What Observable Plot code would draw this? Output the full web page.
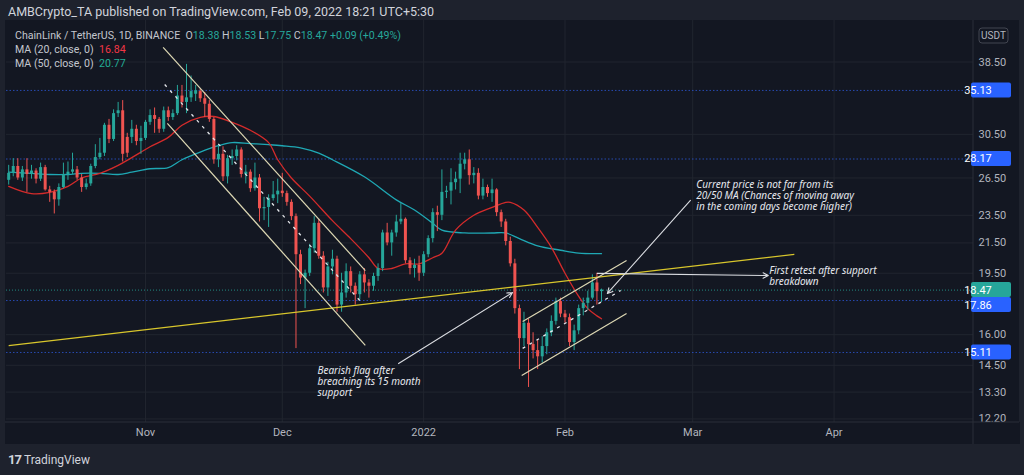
<!DOCTYPE html>
<html><head><meta charset="utf-8">
<script src="https://cdn.jsdelivr.net/npm/d3@7"></script>
<script src="https://cdn.jsdelivr.net/npm/@observablehq/plot@0.6"></script>
<style>
html,body{margin:0;padding:0;background:#1e222d;width:1024px;height:475px;overflow:hidden;font-family:Roboto,"Noto Sans",sans-serif;}
#header{position:absolute;left:8px;top:4px;font-size:12.5px;color:#d1d4dc;white-space:nowrap;}
#chart{position:absolute;left:5px;top:20px;width:1014px;height:424px;background:#131722;}
#legend{position:absolute;left:15px;top:29px;font-size:10.6px;color:#c3c6ce;line-height:14px;white-space:nowrap;}
#footer{position:absolute;left:8px;top:452px;font-size:12px;color:#d1d4dc;white-space:nowrap;}
#footer b{font-size:13px;letter-spacing:-1px;margin-right:3px;}
.up{color:#26a69a}
</style></head>
<body>
<div id="header">AMBCrypto_TA published on TradingView.com, Feb 09, 2022 18:21 UTC+5:30</div>
<div id="chart"></div>
<div id="legend"></div>
<div id="footer"><b>17</b>TradingView</div>
<script>
// ---- daily candles, Oct 2 2021 .. Feb 9 2022 (LINK/USDT, 1D) ----
const firstDay = "2021-10-02";
const opens = [26.3,26.9,27.5,26.5,27.2,26.8,27.1,26.4,27.4,25.5,25.3,24.7,25.7,26.8,27.0,27.2,26.5,25.7,26.0,27.5,28.3,28.7,31.4,30.0,32.6,32.9,30.2,30.2,31.0,29.8,
30.1,31.7,32.4,32.0,31.0,32.9,32.2,32.6,34.5,33.8,34.3,34.7,35.0,34.2,33.6,32.0,28.1,28.6,26.6,28.2,28.4,29.0,26.8,27.0,25.6,26.5,24.0,24.1,24.8,25.1,
25.4,25.2,24.5,23.4,20.7,19.2,19.5,21.1,22.9,20.6,18.6,19.9,20.4,17.6,18.3,19.6,18.7,18.2,19.4,18.9,18.7,19.3,19.8,22.2,21.5,22.2,23.0,23.2,20.3,19.8,20.0,
19.5,20.7,21.8,23.7,23.5,25.3,25.4,26.1,26.4,27.7,28.1,26.7,26.9,25.0,25.7,25.2,25.5,23.7,23.0,21.6,20.1,17.4,15.8,16.6,15.5,15.2,14.9,15.4,16.1,16.7,17.8,
17.1,16.9,15.6,16.2,17.4,17.7,18.0,18.9,18.38];
const highs = [27.6,28.2,28.2,27.5,28.2,27.6,27.3,27.8,27.6,25.8,25.5,26.0,27.8,27.9,28.7,27.5,26.8,26.4,27.7,29.5,30.1,31.6,32.0,33.0,33.8,34.0,30.6,31.9,31.4,31.3,
31.9,33.0,33.2,32.2,33.3,33.3,33.0,35.7,35.7,38.2,36.8,35.7,35.3,34.9,34.0,32.2,29.5,29.3,28.5,29.0,29.4,29.2,27.6,27.2,27.8,26.8,24.9,25.1,26.2,26.4,
26.9,25.4,24.7,23.6,21.0,19.7,21.4,23.4,23.2,20.9,20.2,21.0,20.6,19.5,20.1,19.9,18.9,19.6,19.8,19.1,19.5,20.1,22.4,22.9,22.4,23.5,24.4,23.3,20.5,20.4,20.6,
20.9,22.0,24.0,24.2,27.2,25.8,27.3,27.0,28.7,28.7,29.0,27.4,27.3,26.4,25.9,26.4,25.6,23.9,23.2,21.9,20.4,17.6,17.2,16.8,16.1,15.7,15.9,16.3,17.0,18.0,18.0,
17.3,17.1,16.5,17.6,18.0,18.4,19.4,19.5,18.53];
const lows = [25.9,26.6,26.3,26.2,25.3,26.4,26.0,26.2,25.4,24.5,23.6,24.2,25.6,26.3,26.8,26.3,25.3,25.5,25.8,27.3,28.1,28.4,29.6,29.8,32.2,27.9,28.3,29.6,29.4,28.6,
29.9,31.4,30.6,30.6,30.7,31.8,31.9,32.4,33.2,32.6,33.8,33.9,33.8,32.2,31.7,27.7,27.4,26.2,26.0,27.6,28.0,26.5,26.0,25.3,25.4,23.0,23.1,22.6,24.6,24.4,
24.9,24.2,23.1,15.3,18.8,17.4,19.3,20.8,20.4,18.3,18.1,19.4,17.2,17.2,18.0,18.3,17.6,17.9,18.3,18.0,18.4,19.0,19.6,21.3,20.6,21.9,22.8,20.1,19.4,19.2,19.0,
19.3,20.5,21.5,22.3,23.1,24.8,24.3,25.5,25.2,27.2,25.9,26.0,24.7,24.7,24.9,24.5,23.4,22.6,21.3,19.9,17.1,14.3,15.4,13.5,14.8,14.3,14.6,15.0,15.9,16.5,16.9,
16.6,15.4,15.2,16.0,17.0,17.3,17.9,17.6,17.75];
const closes = [26.9,27.5,26.5,27.2,26.8,27.1,26.4,27.4,25.5,25.3,24.7,25.7,26.8,27.0,27.2,26.5,25.7,26.0,27.5,28.3,28.7,31.4,30.0,32.6,32.9,28.6,28.7,31.0,29.8,30.1,
31.7,32.4,32.0,31.0,32.9,32.2,32.6,34.5,33.8,34.3,35.0,35.1,34.2,33.6,32.0,28.1,28.6,26.6,28.2,28.4,29.0,26.8,27.0,25.6,26.5,24.0,24.1,24.8,25.1,25.4,
25.2,24.5,23.4,20.7,19.2,19.5,21.1,22.9,20.6,18.6,19.9,20.4,17.6,18.3,19.6,18.7,18.2,19.4,18.9,18.7,19.3,19.8,22.2,21.5,22.2,23.0,23.2,20.3,19.8,20.0,19.5,
20.7,21.8,23.7,23.5,25.3,25.4,26.1,26.4,27.7,28.1,26.7,26.9,25.0,25.7,25.2,25.5,23.7,23.0,21.6,20.1,17.4,15.8,16.6,15.5,15.2,14.9,15.4,16.1,16.7,17.8,17.1,
16.9,15.6,16.2,17.4,17.7,18.0,18.9,18.38,18.47];

// ---- moving averages ----
const ma20Dates = ["2021-10-02","2021-10-07","2021-10-11","2021-10-15","2021-10-18","2021-10-22","2021-10-26","2021-10-29","2021-11-02","2021-11-06","2021-11-09","2021-11-13","2021-11-16","2021-11-20","2021-11-24","2021-11-28","2021-11-30","2021-12-03","2021-12-07","2021-12-12","2021-12-16","2021-12-20","2021-12-22","2021-12-25","2021-12-28","2021-12-31","2022-01-03","2022-01-05","2022-01-08","2022-01-12","2022-01-16","2022-01-19","2022-01-20","2022-01-23","2022-01-26","2022-01-29","2022-02-01","2022-02-04","2022-02-06","2022-02-08","2022-02-09"];
const ma20Values = [25.8,25.2,25.3,25.8,26.5,26.9,27.6,28.3,29.3,30.2,31.4,32.2,32.3,31.7,30.9,29.7,28.1,26.5,25.0,23.1,21.8,20.5,19.8,19.8,20.1,20.1,20.5,20.8,22.4,23.5,24.1,24.5,24.5,23.9,22.6,21.2,19.5,18.1,17.4,17.0,16.84];
const ma50Dates = ["2021-10-02","2021-10-07","2021-10-11","2021-10-15","2021-10-18","2021-10-22","2021-10-26","2021-10-29","2021-11-02","2021-11-06","2021-11-09","2021-11-13","2021-11-17","2021-11-20","2021-11-24","2021-11-28","2021-12-01","2021-12-05","2021-12-09","2021-12-12","2021-12-19","2021-12-26","2021-12-30","2022-01-03","2022-01-05","2022-01-10","2022-01-16","2022-01-19","2022-01-22","2022-01-26","2022-01-31","2022-02-04","2022-02-09"];
const ma50Values = [27.0,26.9,26.8,26.8,26.9,26.9,26.8,27.0,27.3,27.4,28.1,28.8,29.4,29.7,29.6,29.5,29.4,29.2,28.7,28.1,26.6,24.7,23.9,22.9,22.4,22.2,22.2,22.2,21.8,21.3,21.0,20.8,20.77];

// ---- price levels and ticks ----
const blueLevels = [35.13, 28.17, 17.86, 15.11];
const lastPrice = 18.47;
const yTicks = [38.5, 30.5, 26.5, 23.5, 21.5, 19.5, 16.0, 14.5, 13.3, 12.2];
const monthTicks = ["2021-11-01","2021-12-01","2022-01-01","2022-02-01","2022-03-01","2022-04-01"];

// ---- drawings (trend lines) ----
const channelLines = [
  {x1:"2021-11-04T21:00Z", y1:40.35, x2:"2021-12-19T05:00Z", y2:19.67},
  {x1:"2021-11-05T19:00Z", y1:31.6,  x2:"2021-12-19T05:00Z", y2:15.46},
  {x1:"2022-01-22T17:00Z", y1:16.69, x2:"2022-02-14T12:00Z", y2:20.32},
  {x1:"2022-01-22T12:00Z", y1:14.03, x2:"2022-02-14T12:00Z", y2:17.13}
];
const dashedLines = [
  {x1:"2021-11-05T05:00Z", y1:35.8,  x2:"2021-12-18T14:00Z", y2:17.69},
  {x1:"2022-01-22T17:00Z", y1:15.31, x2:"2022-02-13T05:00Z", y2:18.45}
];
const supportLine = [{x1:"2021-10-02T00:00Z", y1:15.45, x2:"2022-03-23T07:00Z", y2:20.72}];
const arrowLines = [
  {x1:"2021-12-26T12:00Z", y1:14.58, x2:"2022-01-20T12:00Z", y2:18.33},
  {x1:"2022-02-28T12:00Z", y1:24.66, x2:"2022-02-10T07:00Z", y2:18.27},
  {x1:"2022-02-08T02:00Z", y1:19.49, x2:"2022-03-17T14:00Z", y2:19.36}
];
const notes = [
  {x:"2021-12-08T17:00Z", y:14.45, text:"Bearish flag after\nbreaching its 15 month\nsupport"},
  {x:"2022-03-01T19:00Z", y:26.35, text:"Current price is not far from its\n20/50 MA (Chances of moving away\nin the coming days become higher)"},
  {x:"2022-03-17T19:00Z", y:19.97, text:"First retest after support\nbreakdown"}
];

// ---- build tables ----
const up = "#26a69a", down = "#ef5350";
const t0 = new Date(firstDay + "T00:00Z");
const candles = closes.map((c, i) => ({date: d3.utcDay.offset(t0, i), open: opens[i], high: highs[i], low: lows[i], close: c}));
const ma20 = ma20Dates.map((d, i) => ({date: new Date(d + "T00:00Z"), v: ma20Values[i]}));
const ma50 = ma50Dates.map((d, i) => ({date: new Date(d + "T00:00Z"), v: ma50Values[i]}));
const toD = s => new Date(s);
const seg = a => a.map(o => ({x1: toD(o.x1), y1: o.y1, x2: toD(o.x2), y2: o.y2}));
const mTicks = monthTicks.map(s => new Date(s + "T00:00Z"));
const grid = "#21252f";

const chart = Plot.plot({
  width: 1014, height: 424,
  marginLeft: 1, marginRight: 46, marginTop: 0, marginBottom: 22,
  style: {background: "transparent", color: "#b2b5be", fontFamily: "Roboto, sans-serif", fontSize: "11px", overflow: "visible"},
  color: {type: "identity"},
  x: {type: "utc", domain: [new Date(Date.UTC(2021,9,1,12,29)), new Date(Date.UTC(2022,4,1,13,55))],
      ticks: mTicks, tickSize: 0, tickPadding: 6, label: null,
      tickFormat: d => d.getUTCMonth() === 0 ? String(d.getUTCFullYear()) : d3.utcFormat("%b")(d)},
  y: {type: "log", domain: [12.06, 44.0], axis: "right", ticks: yTicks, tickSize: 0, tickPadding: 5,
      tickFormat: d => d.toFixed(2), label: null},
  marks: [
    Plot.ruleX(mTicks, {stroke: grid}),
    Plot.ruleY(yTicks, {stroke: grid}),
    Plot.ruleY(blueLevels, {stroke: "#2a52c9", strokeOpacity: 0.85, strokeDasharray: "1.5,2", strokeWidth: 1}),
    Plot.ruleY([lastPrice], {stroke: "#26a69a", strokeOpacity: 0.8, strokeDasharray: "1,2", strokeWidth: 1}),
    Plot.line(ma50, {x: "date", y: "v", stroke: "#1fa8b4", strokeWidth: 1.3, curve: "catmull-rom"}),
    Plot.line(ma20, {x: "date", y: "v", stroke: "#d42b2b", strokeWidth: 1.3, curve: "catmull-rom"}),
    Plot.ruleX(candles, {x: "date", y1: "low", y2: "high", stroke: d => d.close >= d.open ? up : down, strokeWidth: 1}),
    Plot.ruleX(candles, {x: "date", y1: "open", y2: "close", stroke: d => d.close >= d.open ? up : down, strokeWidth: 3}),
    Plot.link(seg(supportLine), {x1: "x1", y1: "y1", x2: "x2", y2: "y2", stroke: "#d8c62c", strokeWidth: 1.2}),
    Plot.link(seg(channelLines), {x1: "x1", y1: "y1", x2: "x2", y2: "y2", stroke: "#ddd8b4", strokeWidth: 1.2}),
    Plot.link(seg(dashedLines), {x1: "x1", y1: "y1", x2: "x2", y2: "y2", stroke: "#e4e6ea", strokeWidth: 1.3, strokeDasharray: "3,5"}),
    Plot.arrow(seg(arrowLines), {x1: "x1", y1: "y1", x2: "x2", y2: "y2", stroke: "#d9dbe0", strokeWidth: 1.1, headLength: 8, headAngle: 55}),
    Plot.text(notes, {x: d => toD(d.x), y: "y", text: "text", textAnchor: "start", lineAnchor: "top",
      fill: "#e6e8ee", fontSize: 10, fontStyle: "italic", lineHeight: 1.1, fontFamily: "Noto Sans, sans-serif"})
  ]
});
document.getElementById("chart").appendChild(chart);

// ---- price-axis decorations drawn with the chart's own y scale ----
const ys = chart.scale("y");
const svg = d3.select(chart);
const W = 1014, H = 424, paneR = W - 46, paneB = H - 22;
svg.append("rect").attr("x", paneR + 1).attr("y", paneB).attr("width", W - paneR).attr("height", 22).attr("fill", "#131722");
svg.append("line").attr("x1", paneR).attr("x2", paneR).attr("y1", 0).attr("y2", H).attr("stroke", "#2a2e39");
svg.append("line").attr("x1", 0).attr("x2", W).attr("y1", paneB).attr("y2", paneB).attr("stroke", "#2a2e39");

const labels = [{v: lastPrice, fill: up}].concat(blueLevels.map(v => ({v, fill: "#2962ff"})));
labels.forEach(l => l.py = ys.apply(l.v));
const placed = [labels[0]];
labels.slice(1).sort((a, b) => a.py - b.py).forEach(l => {
  for (const p of placed) if (Math.abs(l.py - p.py) < 15) l.py = l.py > p.py ? p.py + 15 : p.py - 15;
  placed.push(l);
});
placed.forEach(l => {
  svg.append("rect").attr("x", paneR - 2).attr("y", l.py - 7.5).attr("width", 40).attr("height", 15).attr("rx", 2).attr("fill", l.fill);
  svg.append("text").attr("x", paneR + 5).attr("y", l.py).attr("dy", "0.36em").attr("fill", "#ffffff")
    .attr("font-size", 11).attr("font-family", "Roboto, sans-serif").text(l.v.toFixed(2));
});
svg.append("rect").attr("x", paneR + 6).attr("y", 8).attr("width", 29).attr("height", 15).attr("rx", 3)
  .attr("fill", "#131722").attr("stroke", "#434651");
svg.append("text").attr("x", paneR + 20.5).attr("y", 15.5).attr("dy", "0.36em").attr("text-anchor", "middle")
  .attr("fill", "#b2b5be").attr("font-size", 10).attr("font-family", "Roboto, sans-serif").text("USDT");

// ---- legend from the data ----
const last = candles[candles.length - 1], prev = candles[candles.length - 2];
const chg = last.close - prev.close;
document.getElementById("legend").innerHTML =
  `<div>ChainLink / TetherUS, 1D, BINANCE&nbsp; O<span class="up">${last.open.toFixed(2)}</span> H<span class="up">${last.high.toFixed(2)}</span> L<span class="up">${last.low.toFixed(2)}</span> C<span class="up">${last.close.toFixed(2)}</span> <span class="up">+${chg.toFixed(2)} (+${(chg / prev.close * 100).toFixed(2)}%)</span></div>` +
  `<div>MA (20, close, 0)&nbsp; <span style="color:#f23645">${ma20Values[ma20Values.length - 1].toFixed(2)}</span></div>` +
  `<div>MA (50, close, 0)&nbsp; <span style="color:#22ab94">${ma50Values[ma50Values.length - 1].toFixed(2)}</span></div>`;
</script>
</body></html>
